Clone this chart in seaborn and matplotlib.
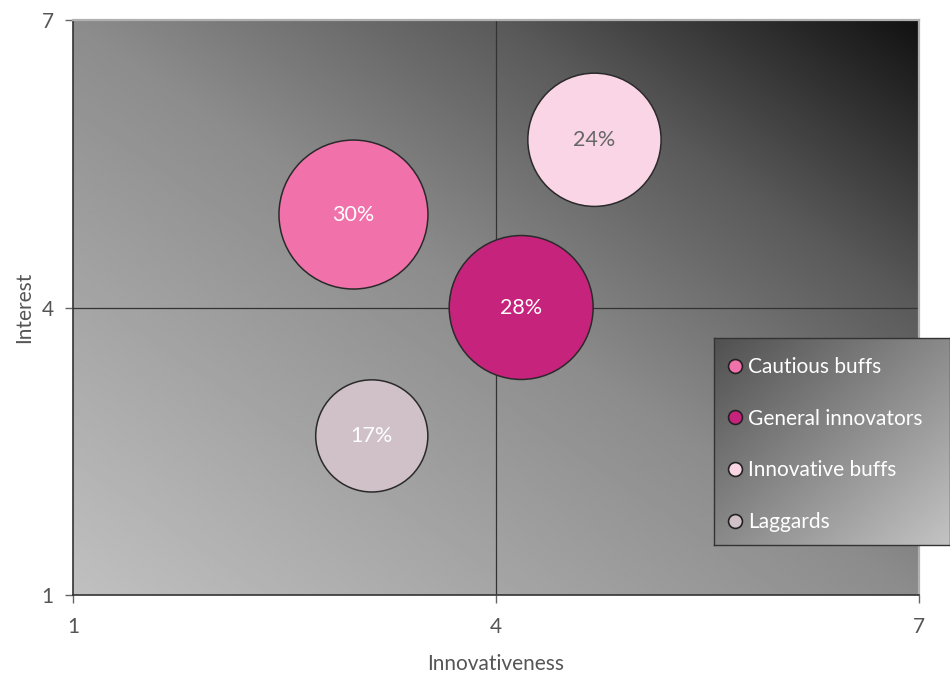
import numpy as np
import pandas as pd
import matplotlib
matplotlib.use("Agg")
import matplotlib.pyplot as plt
from matplotlib.lines import Line2D
import seaborn as sns

# ---- data ----
segments = ["Cautious buffs", "General innovators", "Innovative buffs", "Laggards"]
innovativeness = [2.99, 4.18, 4.70, 3.12]
interest = [4.97, 4.00, 5.75, 2.66]
share = [30, 28, 24, 17]
x_ticks = [1, 4, 7]
y_ticks = [1, 4, 7]

# ---- styles ----
colors = ["#f172aa", "#c6237c", "#fad5e6", "#d0c1c8"]
label_colors = ["white", "white", "#666666", "white"]

sns.set_theme(style="white")
plt.rcParams["font.family"] = ["Lato", "DejaVu Sans"]

df = pd.DataFrame({"Segment": segments, "Innovativeness": innovativeness,
                   "Interest": interest, "Share": share})

fig = plt.figure(figsize=(9.5, 6.75), dpi=100)
ax = fig.add_axes([73 / 950, 80 / 675, 845.6 / 950, 575 / 675])

# background gradient (light bottom-left -> dark top-right)
n = 300
g = np.linspace(0, 1, n)
U, V = np.meshgrid(g, g)
T = (U + V) / 2
G = np.interp(T, [0, 0.5, 0.75, 1], [192, 140, 90, 18]) / 255
ax.imshow(G, extent=(1, 7, 1, 7), origin="lower", aspect="auto", cmap="gray",
          vmin=0, vmax=1, interpolation="bilinear", zorder=0)

ax.axvline(4, color="#333333", lw=0.9, zorder=1)
ax.axhline(4, color="#333333", lw=0.9, zorder=1)

palette = dict(zip(segments, colors))
sizes = {s: 383.5 * s for s in share}
sns.scatterplot(data=df, x="Innovativeness", y="Interest", hue="Segment",
                palette=palette, size="Share", sizes=sizes,
                edgecolor="#2a2a2a", linewidth=1.1, alpha=1,
                legend=False, ax=ax, zorder=3)

for xi, yi, s, c in zip(innovativeness, interest, share, label_colors):
    ax.text(xi, yi, f"{s}%", color=c, fontsize=15.5, ha="center", va="center", zorder=4)

ax.set_xlim(1, 7)
ax.set_ylim(1, 7)
ax.set_xticks(x_ticks)
ax.set_yticks(y_ticks)
ax.tick_params(bottom=True, left=True, direction="out", length=6, width=1,
               color="#666666", labelsize=15, labelcolor="#555555")
ax.tick_params(axis="x", pad=10)
ax.tick_params(axis="y", pad=8)
ax.set_xlabel("Innovativeness", fontsize=15, color="#555555", labelpad=12)
ax.set_ylabel("Interest", fontsize=15, color="#555555", labelpad=5)

for side in ["left", "bottom"]:
    ax.spines[side].set_color("#333333")
    ax.spines[side].set_linewidth(1.2)
for side in ["top", "right"]:
    ax.spines[side].set_color("#b0b0b0")
    ax.spines[side].set_linewidth(1.6)

# ---- legend box ----
ax_leg = fig.add_axes([714 / 950, 130 / 675, 236 / 950, 207 / 675])
T2 = (U + (1 - V)) / 2
G2 = np.interp(T2, [0, 1], [80, 195]) / 255
ax_leg.imshow(G2, extent=(0, 1, 0, 1), origin="lower", aspect="auto", cmap="gray",
              vmin=0, vmax=1, interpolation="bilinear")
ax_leg.set_xticks([])
ax_leg.set_yticks([])
for sp in ax_leg.spines.values():
    sp.set_color("#333333")
    sp.set_linewidth(1)

handles = [Line2D([], [], marker="o", linestyle="", markersize=10,
                  markerfacecolor=c, markeredgecolor="#222222", markeredgewidth=1.2)
           for c in colors]
ax_leg.legend(handles, segments, loc="center left", bbox_to_anchor=(0.058, 0.4855),
              frameon=False, fontsize=15, labelcolor="white", handlelength=0.7,
              handletextpad=0.27, labelspacing=1.52, borderpad=0, borderaxespad=0)

fig.savefig("out.png", dpi=100)
